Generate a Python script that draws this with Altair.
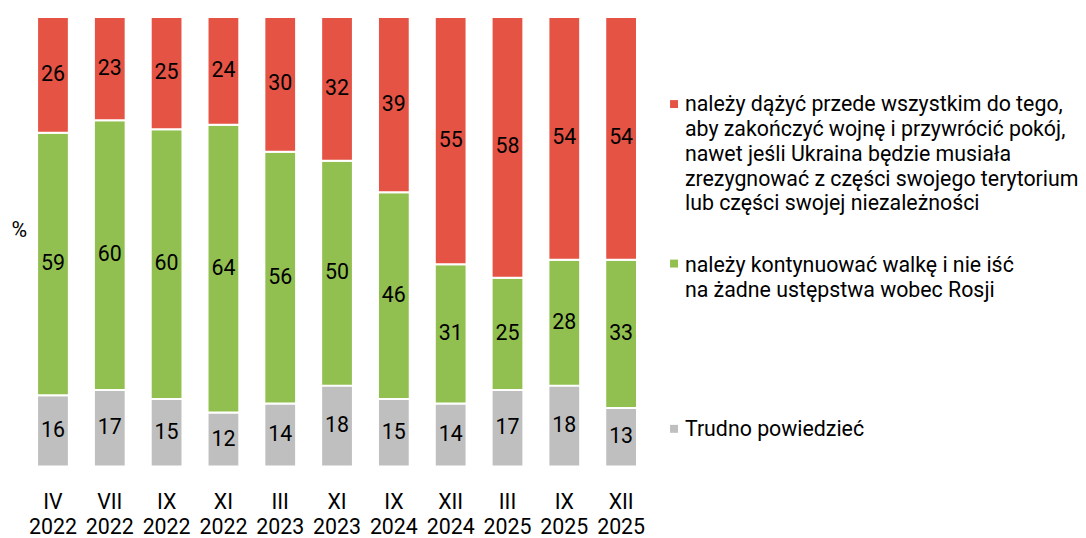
import altair as alt
import pandas as pd

periods = ["IV 2022", "VII 2022", "IX 2022", "XI 2022", "III 2023", "XI 2023",
           "IX 2024", "XII 2024", "III 2025", "IX 2025", "XII 2025"]
peace = [26, 23, 25, 24, 30, 32, 39, 55, 58, 54, 54]
fight = [59, 60, 60, 64, 56, 50, 46, 31, 25, 28, 33]
hard = [16, 17, 15, 12, 14, 18, 15, 14, 17, 18, 13]

series_names = ["Trudno powiedzieć", "fight", "peace"]
series_colors = ["#BFBFBF", "#92C050", "#E55345"]

legend_peace = ["należy dążyć przede wszystkim do tego,",
                "aby zakończyć wojnę i przywrócić pokój,",
                "nawet jeśli Ukraina będzie musiała",
                "zrezygnować z części swojego terytorium",
                "lub części swojej niezależności"]
legend_fight = ["należy kontynuować walkę i nie iść",
                "na żadne ustępstwa wobec Rosji"]
legend_hard = ["Trudno powiedzieć"]

rows = []
for i, p in enumerate(periods):
    for ord_, (name, vals) in enumerate(zip(series_names, [hard, fight, peace])):
        rows.append({"period": p, "series": name, "value": vals[i], "ord": ord_})
df = pd.DataFrame(rows)

FONT = "Roboto"
FS = 21.5
LFS = 21.5
W, H = 629, 453

xenc = alt.X("period:N", sort=periods,
             scale=alt.Scale(paddingInner=0.441, paddingOuter=0.215),
             axis=alt.Axis(title=None, labelAngle=0, ticks=False, domain=False,
                           labelExpr="split(datum.label, ' ')",
                           labelFont=FONT, labelFontSize=FS, labelColor="#000000",
                           labelLineHeight=25.5, labelPadding=25, grid=False))
yaxis = alt.Axis(title="%", labels=False, ticks=False, domain=False, grid=False,
                 titleAngle=0, titleX=-6, titleY=215, titleFont=FONT,
                 titleFontSize=FS, titleFontWeight="normal", titleColor="#000000",
                 titleAlign="center", titleBaseline="middle")
yscale = alt.Scale(domain=[0, 1], nice=False)
cscale = alt.Scale(domain=series_names, range=series_colors)

bars = alt.Chart(df).mark_bar(stroke="white", strokeWidth=2).encode(
    x=xenc,
    y=alt.Y("value:Q", stack="normalize", scale=yscale, axis=yaxis),
    color=alt.Color("series:N", scale=cscale, legend=None),
    order=alt.Order("ord:Q", sort="ascending"),
)

labels = alt.Chart(df).transform_joinaggregate(
    total="sum(value)", groupby=["period"]
).transform_window(
    cum="sum(value)", groupby=["period"], sort=[alt.SortField("ord")], frame=[None, 0]
).transform_calculate(
    mid="(datum.cum - datum.value / 2) / datum.total"
).mark_text(font=FONT, fontSize=FS, color="#000000", baseline="middle").encode(
    x=xenc,
    y=alt.Y("mid:Q", scale=yscale, axis=yaxis),
    text=alt.Text("value:Q"),
)

legend_layers = []
legend_items = [("peace", legend_peace, 87.8, 95),
                ("fight", legend_fight, 248.5, 257),
                ("Trudno powiedzieć", legend_hard, 415, 422)]
for name, lines, sy, ty in legend_items:
    ld = pd.DataFrame({"series": [name]})
    sq = alt.Chart(ld).mark_square(size=64, opacity=1).encode(
        x=alt.value(654), y=alt.value(sy),
        color=alt.Color("series:N", scale=cscale, legend=None),
    )
    tx = alt.Chart(ld).mark_text(font=FONT, fontSize=LFS, color="#000000",
                                 align="left", baseline="alphabetic",
                                 lineHeight=25).encode(
        x=alt.value(665), y=alt.value(ty), text=alt.value(lines),
    )
    legend_layers += [sq, tx]

chart = alt.layer(bars, labels, *legend_layers).properties(
    width=W, height=H,
    autosize=alt.AutoSizeParams(type="none"),
    padding={"left": 17, "top": 7, "right": 1078 - 17 - W, "bottom": 530 - 7 - H},
).configure_view(stroke=None)

chart.save("out.html", embed_options={"renderer": "svg", "actions": False})
